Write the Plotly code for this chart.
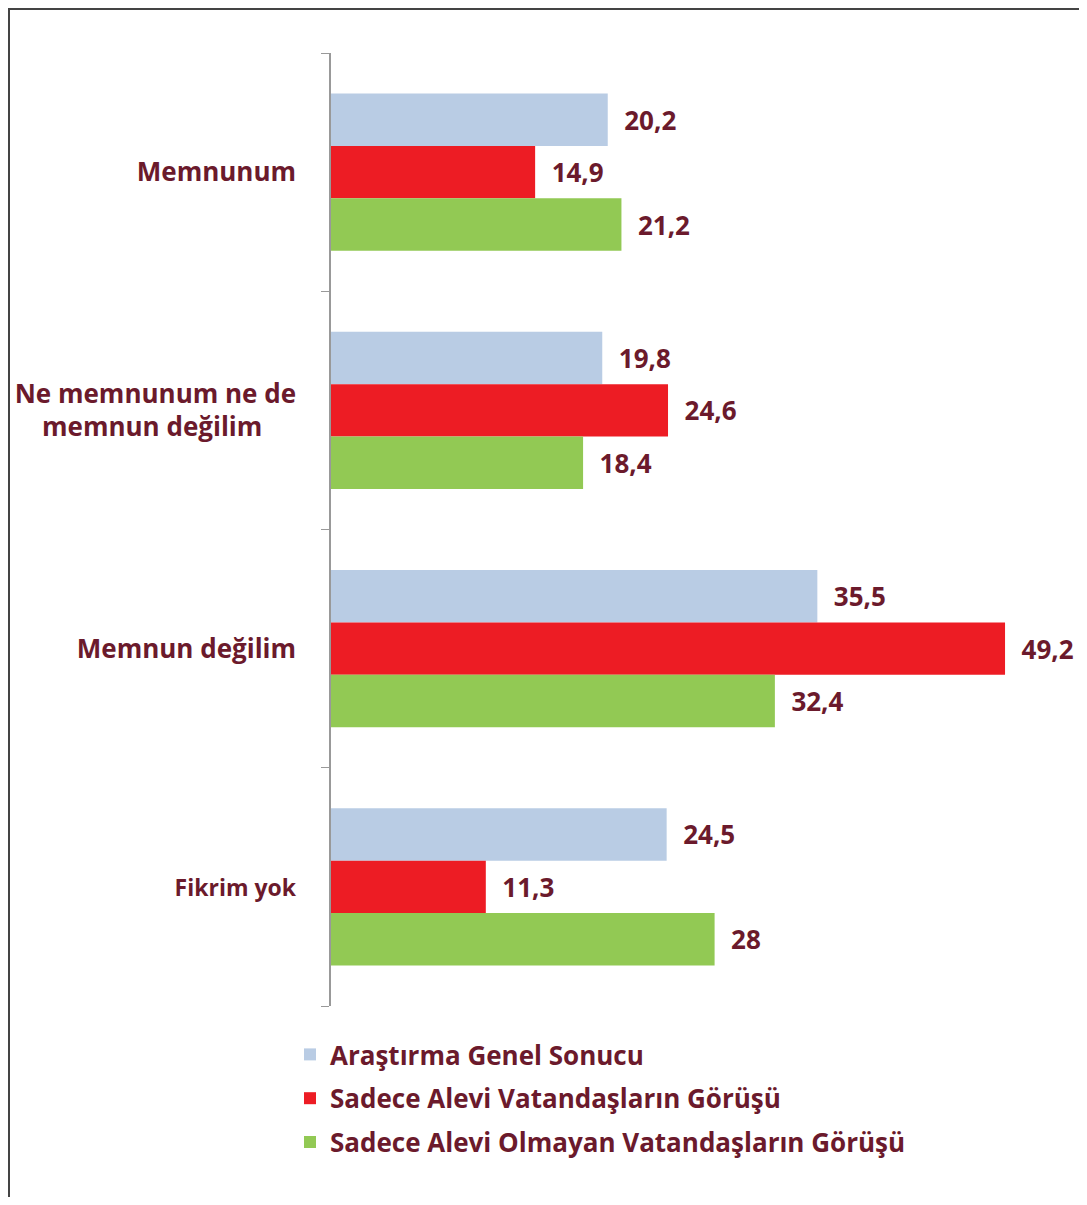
import plotly.graph_objects as go

categories = ["Memnunum", "Ne memnunum ne de<br>memnun değilim", "Memnun değilim", "Fikrim yok"]
tick_labels = ["Memnunum",
               "Ne memnunum ne de<br>memnun değilim\u00a0\u00a0\u00a0\u00a0\u00a0",
               "Memnun değilim",
               "<span style='font-size:23px'>Fikrim yok</span>"]
series_names = ["Araştırma Genel Sonucu", "Sadece Alevi Vatandaşların Görüşü",
                "Sadece Alevi Olmayan Vatandaşların Görüşü"]
genel = [20.2, 19.8, 35.5, 24.5]
alevi = [14.9, 24.6, 49.2, 11.3]
alevi_olmayan = [21.2, 18.4, 32.4, 28]
colors = ["#b9cce4", "#ed1c24", "#92c954"]

label_color = "#6b1a2c"
FONT = "Open Sans"

def fmt(v):
    s = ("%g" % v).replace(".", ",")
    return "\u00a0\u00a0" + s

fig = go.Figure()
for i, (name, vals) in enumerate(zip(series_names, [genel, alevi, alevi_olmayan])):
    fig.add_trace(go.Bar(
        y=categories, x=vals, name=name, orientation="h",
        marker=dict(color=colors[i], line=dict(width=0)),
        text=[fmt(v) for v in vals], textposition="outside",
        textfont=dict(family=FONT, size=26, color=label_color, weight="bold"),
        constraintext="none", cliponaxis=False,
        legendgroup=str(i),
    ))

# figure sits inside the page with an 8px body margin
W, H = 1079, 1189
L, R, T, B = 323, 7, 45, 191
pw, ph = W - L - R, H - T - B

def px_x(p):
    return (p - L) / pw

def px_y(p):
    return (H - B - p) / ph

x0, x1 = px_x(1), px_x(W - 3)
yt, yb = px_y(1), px_y(H + 20)
frame_path = f"M {x0},{yb} L {x0},{yt} L {x1},{yt} L {x1},{yb}"

fig.update_layout(
    width=W, height=H,
    margin=dict(l=L, r=R, t=T, b=B),
    paper_bgcolor="white", plot_bgcolor="white",
    barmode="group", bargap=0.34, bargroupgap=0,
    font=dict(family=FONT, color=label_color),
    xaxis=dict(range=[0, (W - R - L) / 13.7], visible=False),
    yaxis=dict(autorange="reversed", tickmode="array", tickvals=categories, ticktext=tick_labels,
               tickson="boundaries", ticks="outside", ticklen=8, tickcolor="#999999",
               showline=True, linecolor="#999999", linewidth=1.5, showgrid=False,
               tickfont=dict(family=FONT, size=26, color=label_color, weight="bold"),
               ticklabelstandoff=28),
    legend=dict(x=px_x(282), y=px_y(1023), xanchor="left", yanchor="top",
                font=dict(family=FONT, size=26, color=label_color, weight="bold"),
                tracegroupgap=7, traceorder="grouped", itemwidth=30),
    showlegend=True,
    shapes=[dict(type="path", xref="paper", yref="paper", path=frame_path,
                 line=dict(color="#444444", width=2), layer="below")],
)

fig.write_html("out.html")
